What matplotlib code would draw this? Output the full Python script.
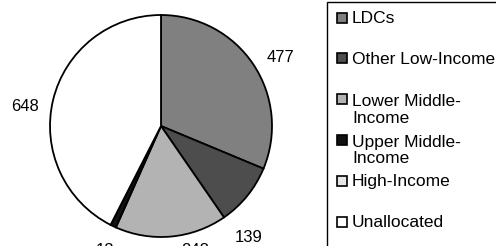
import numpy as np
import matplotlib.pyplot as plt
import matplotlib.patches as patches

plt.rcParams['font.family'] = ['Liberation Sans', 'DejaVu Sans']

# --- данные ---
categories = ['LDCs', 'Other Low-Income', 'Lower Middle-\nIncome',
              'Upper Middle-\nIncome', 'High-Income', 'Unallocated']
values = [477, 139, 248, 13, 0, 648]
colors = ['#808080', '#4d4d4d', '#b3b3b3', '#111111', '#e6e6e6', '#ffffff']

# положение подписей (сдвиг угла, радиус) для ненулевых секторов
label_shift = [-4, -13, 10, 1.5, 5.5]
label_rad = [1.24, 1.28, 1.16, 1.23, 1.24]

W, H = 496, 246
fig = plt.figure(figsize=(W / 100, H / 100), dpi=100)
ax = fig.add_axes([50 / W, 9 / H, 222 / W, 222 / H])

idx = [i for i, v in enumerate(values) if v > 0]
wedges, _ = ax.pie([values[i] for i in idx], colors=[colors[i] for i in idx],
                   startangle=90, counterclock=False,
                   wedgeprops=dict(edgecolor='black', linewidth=1.3))
ax.set_xlim(-1.0, 1.0)
ax.set_ylim(-1.0, 1.0)
ax.set_aspect('equal')

for w, i, ds, r in zip(wedges, idx, label_shift, label_rad):
    ang = np.radians((w.theta1 + w.theta2) / 2 + ds)
    ax.text(r * np.cos(ang), r * np.sin(ang), str(values[i]), fontsize=12,
            ha='center', va='center', clip_on=False)

# --- легенда в стиле Excel: рамка выходит за край рисунка ---
frame = patches.Rectangle((327 / W, -0.1), 0.5, 1 - 2 / H + 0.1,
                          transform=fig.transFigure, facecolor='white',
                          edgecolor='black', linewidth=1.0, zorder=0)
fig.add_artist(frame)

pitch = 40.8   # шаг строк легенды, px
line_px = 18   # межстрочный интервал в двухстрочных подписях, px
for k, (name, c) in enumerate(zip(categories, colors)):
    base = 23 + k * pitch
    fig.add_artist(patches.Rectangle((337 / W, 1 - (base - 0.5) / H), 10 / W, 10 / H,
                                     transform=fig.transFigure, facecolor=c,
                                     edgecolor='black', linewidth=1.2))
    # va='baseline' у многострочного текста относится к последней строке
    extra = name.count('\n') * line_px
    fig.text(352 / W, 1 - (base + extra) / H, name, fontsize=12.5,
             va='baseline', ha='left', linespacing=1.15)

plt.savefig('out.png', dpi=100)
